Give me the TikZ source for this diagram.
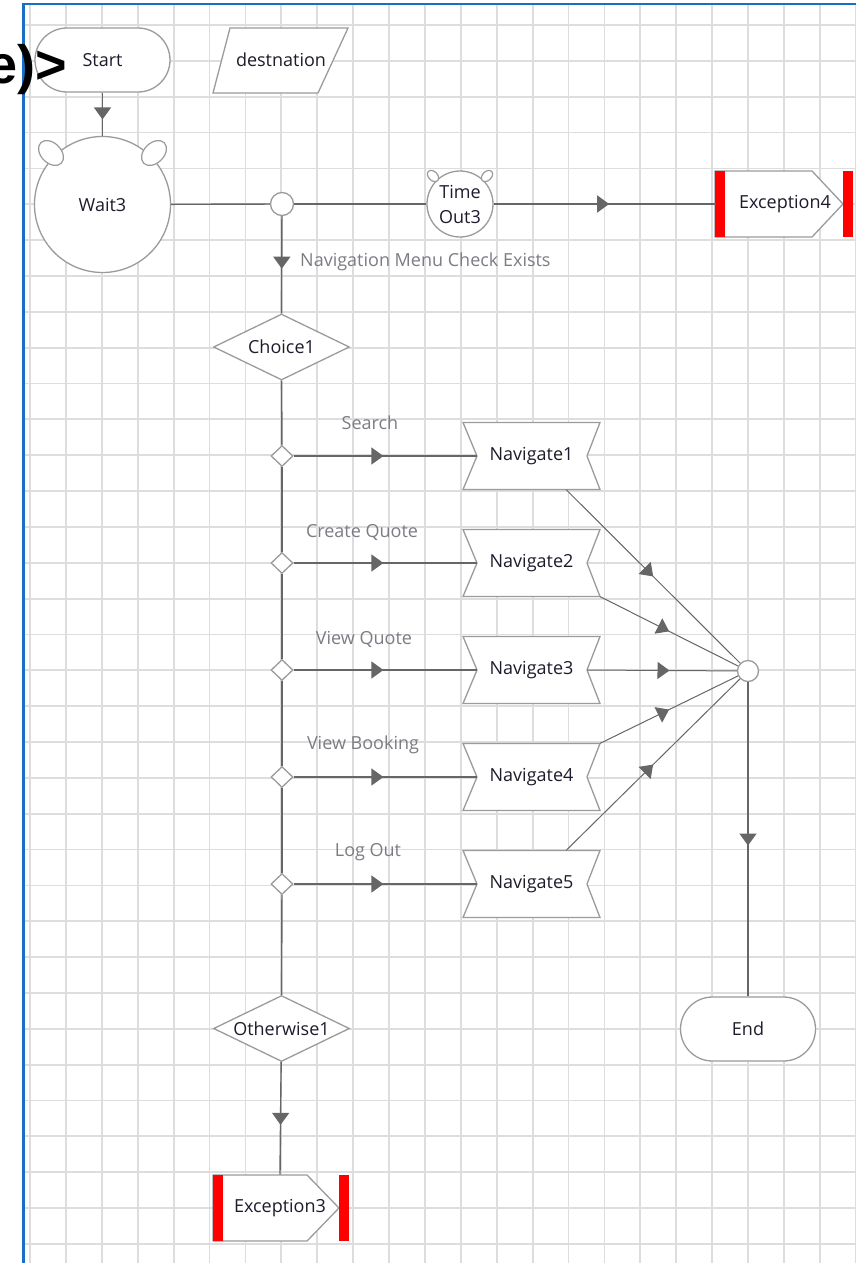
\documentclass[tikz,border=0pt]{standalone}
\usepackage{fontspec}
\setmainfont{Open Sans}
\newfontfamily\bigsans{Liberation Sans}
\usetikzlibrary{arrows.meta,decorations.markings,shapes.geometric,calc}
\definecolor{gridc}{HTML}{DDDDDD}
\definecolor{edgec}{HTML}{666666}
\definecolor{shapec}{HTML}{9B9B9B}
\definecolor{labelc}{HTML}{7C7C84}
\definecolor{textc}{HTML}{1C1C2C}
\definecolor{bordc}{HTML}{1A6FC4}
\definecolor{excred}{HTML}{FF0000}
\tikzset{
  txt/.style={text=textc, font=\fontsize{18}{21}\selectfont},
  shp/.style={draw=shapec, line width=1.3pt, fill=white, txt},
  term/.style={shp, rounded corners=32pt, minimum width=135pt, minimum height=64pt, inner sep=0pt},
  navbox/.style={minimum width=137pt, minimum height=67pt, inner sep=0pt, txt},
  junc/.style={circle, draw=shapec, line width=1.3pt, fill=white, minimum size=#1, inner sep=0pt},
  gate/.style={diamond, shp, minimum width=22pt, minimum height=21pt, inner sep=0pt},
  bigdia/.style={diamond, shp, shape aspect=2.06, minimum width=136pt, minimum height=66pt, inner sep=0pt},
  ear/.style={ellipse, draw=shapec, line width=1.2pt, fill=white, inner sep=0pt},
  conn/.style={draw=edgec, line width=1.4pt},
  thinconn/.style={draw=edgec, line width=1pt},
  flow/.style={postaction={decorate}, decoration={markings, mark=at position #1 with {\arrow{Triangle[length=12pt,width=17pt]}}}},
  flow/.default=0.5,
  lbl/.style={text=labelc, font=\fontsize{18}{21}\selectfont, inner sep=0pt},
}
\begin{document}
\begin{tikzpicture}[x=1pt,y=-1pt]
\useasboundingbox (0,0) rectangle (856,1263);
\fill[white] (0,0) rectangle (856,1263);
% grid
\foreach \k in {0,...,23} {\draw[gridc, line width=1.8pt] ({30+35.9*\k},4) -- ({30+35.9*\k},1263);}
\foreach \k in {0,...,34} {\draw[gridc, line width=1.8pt] (24,{25+35.85*\k}) -- (856,{25+35.85*\k});}
\draw[bordc, line width=2.2pt] (23.5,1263) -- (23.5,4) -- (856,4);

% top row
\node[term] (start) at (102.5,60) {Start};
\draw[shp] (230,28) -- (348,28) -- (318,93) -- (213,93) -- cycle;
\node[txt] (dest) at (281,60) {destnation};

% Wait3
\node[circle, shp, minimum size=136pt, inner sep=0pt] (wait) at (102.5,204.5) {Wait3};
\node[ear, minimum width=29pt, minimum height=20pt, rotate=-45] (earL) at (51,153) {};
\node[ear, minimum width=29pt, minimum height=20pt, rotate=45] (earR) at (154,153) {};

\node[junc=23pt] (j1) at (282,204) {};

% TimeOut3
\node[circle, shp, minimum size=66pt, inner sep=0pt, align=center, font=\fontsize{18}{25}\selectfont] (tmo) at (460,204) {Time\\Out3};
\node[ear, minimum width=13pt, minimum height=9pt, rotate=-45] (tearL) at (433,176) {};
\node[ear, minimum width=13pt, minimum height=9pt, rotate=45] (tearR) at (487,176) {};

% Exception4
\draw[shp] (715,171) -- (812,171) -- (843,204) -- (812,237) -- (715,237) -- cycle;
\fill[excred] (715,171) rectangle (725,237);
\fill[excred] (843,171) rectangle (853,237);
\node[navbox, minimum width=138pt] (exc4) at (785,204) {Exception4};

% Choice
\node[bigdia] (ch) at (281.5,347) {Choice1};

% branches
\foreach \i/\y in {1/456,2/563,3/670,4/777,5/884} {
  \draw[shp] (463,{\y-33.5}) -- (600,{\y-33.5}) -- (587,\y) -- (600,{\y+33.5}) -- (463,{\y+33.5}) -- (477,\y) -- cycle;
  \node[navbox] (nav\i) at (531.5,\y) {Navigate\i};
  \node[gate] (g\i) at (282,\y) {};
}

\node[bigdia] (oth) at (281.5,1028.5) {Otherwise1};
\node[junc=21pt] (mg) at (748,671) {};
\node[term] (end) at (748,1029) {End};

% Exception3
\draw[shp] (213,1175) -- (307,1175) -- (339,1208) -- (307,1241) -- (213,1241) -- cycle;
\fill[excred] (213,1175) rectangle (223,1241);
\fill[excred] (339,1175) rectangle (349,1241);
\node[navbox, minimum width=136pt] (exc3) at (280,1208) {Exception3};

% connectors
\draw[conn, flow=0.62] (start) -- (wait);
\draw[conn] (wait) -- (j1);
\draw[conn] (j1) -- (tmo);
\draw[conn, flow=0.52] (tmo) -- (exc4.west);
\draw[conn, flow=0.54] (j1) -- (ch);
\node[lbl, anchor=west] (lnav) at (300,262) {Navigation Menu Check Exists};
\draw[conn] (ch) -- (g1);
\draw[conn] (g1) -- (g2);
\draw[conn] (g2) -- (g3);
\draw[conn] (g3) -- (g4);
\draw[conn] (g4) -- (g5);
\draw[conn] (g5) -- (oth);
\foreach \i in {1,...,5} {\draw[conn, flow=0.49] (g\i) -- ($(nav\i.west)+(14,0)$);}
\node[lbl] (l1) at (370,423) {Search};
\node[lbl] (l2) at (362,532) {Create Quote};
\node[lbl] (l3) at (364,639) {View Quote};
\node[lbl] (l4) at (363,745) {View Booking};
\node[lbl] (l5) at (368,852) {Log Out};

\draw[thinconn, flow=0.5] ($(nav1.south east)+(-34,0)$) -- (mg);
\draw[thinconn, flow=0.5] (nav2.south east) -- (mg);
\draw[thinconn, flow=0.55] ($(nav3.east)+(-13,0)$) -- (mg);
\draw[thinconn, flow=0.5] (nav4.north east) -- (mg);
\draw[thinconn, flow=0.5] ($(nav5.north east)+(-34,0)$) -- (mg);
\draw[conn, flow=0.52] (mg) -- (end);
\draw[conn, flow=0.56] (oth) -- (exc3.north);

% stray fragment
\node[anchor=base east, inner sep=0pt, font=\bigsans\bfseries\fontsize{54}{60}\selectfont] (frag) at (67,83) {e)>};
\end{tikzpicture}
\end{document}
